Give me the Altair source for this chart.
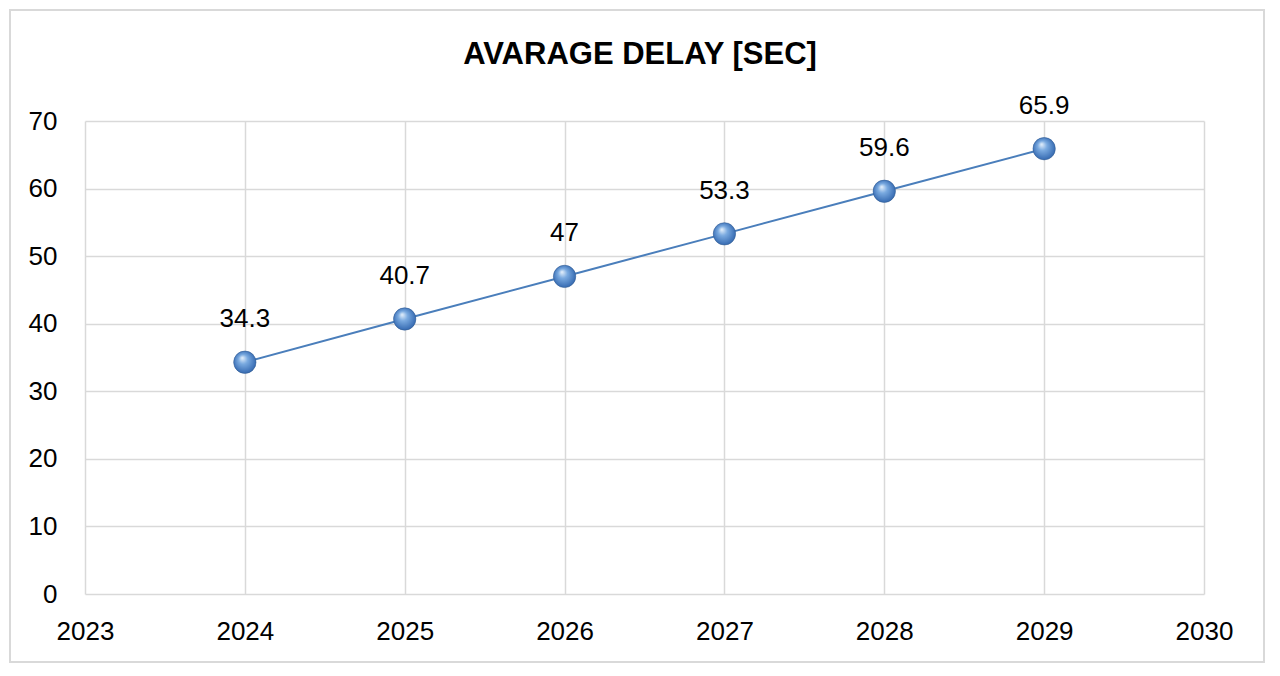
import altair as alt
import pandas as pd

years = [2024, 2025, 2026, 2027, 2028, 2029]
delay = [34.3, 40.7, 47, 53.3, 59.6, 65.9]
labels = ["34.3", "40.7", "47", "53.3", "59.6", "65.9"]
x_ticks = [2023, 2024, 2025, 2026, 2027, 2028, 2029, 2030]
y_ticks = [0, 10, 20, 30, 40, 50, 60, 70]
title = "AVARAGE DELAY [SEC]"

df = pd.DataFrame({"year": years, "delay": delay, "label": labels})

FONT = "Liberation Sans"
W, H = 1119, 473
PL, PT, PR, PB = 77, 113, 62, 70

x = alt.X("year:Q", scale=alt.Scale(domain=[2023, 2030], nice=False),
          axis=alt.Axis(values=x_ticks, format="d", title=None, labelFontSize=26,
                        labelColor="#000000", labelFont=FONT, labelPadding=24,
                        domain=False, ticks=False, grid=True, gridColor="#d9d9d9",
                        gridWidth=1.5, labelFlush=False))
y = alt.Y("delay:Q", scale=alt.Scale(domain=[0, 70], nice=False),
          axis=alt.Axis(values=y_ticks, title=None, labelFontSize=26,
                        labelColor="#000000", labelFont=FONT, labelPadding=28,
                        domain=False, ticks=False, grid=True, gridColor="#d9d9d9",
                        gridWidth=1.5))

base = alt.Chart(df)

line = base.mark_line(color="#4a7ebb", strokeWidth=2).encode(x=x, y=y)

sphere = alt.Gradient(
    gradient="radial",
    x1=0.38, y1=0.3, r1=0.0,
    x2=0.5, y2=0.5, r2=0.6,
    stops=[alt.GradientStop(offset=0, color="#e8f2fc"),
           alt.GradientStop(offset=0.35, color="#7aaae0"),
           alt.GradientStop(offset=0.8, color="#3f73b8"),
           alt.GradientStop(offset=1, color="#2c5a96")],
)
shadow = base.mark_point(filled=True, size=500, color="#8a8a8a", opacity=0.45,
                         shape="circle", dx=2, dy=3).encode(x=x, y=y)
points = base.mark_point(filled=True, size=500, fill=sphere, opacity=1,
                         shape="circle", stroke="#2c5a96", strokeWidth=0.5).encode(x=x, y=y)

text = base.mark_text(fontSize=26, font=FONT, color="#000000", dy=-43,
                      baseline="middle").encode(x=x, y=y, text="label:N")

one = alt.Data(values=[{"t": title}])
frame = alt.Chart(one).mark_rect(
    fill=None, stroke="#d9d9d9", strokeWidth=2
).encode(x=alt.value(-PL + 2), x2=alt.value(W + PR - 2),
         y=alt.value(-PT + 2), y2=alt.value(H + PB - 2))

title_mark = alt.Chart(one).mark_text(
    fontSize=31, font=FONT, fontWeight="bold", color="#000000",
    align="center", baseline="middle"
).encode(x=alt.value(640 - 85), y=alt.value(55 - 121), text="t:N")

chart = alt.layer(frame, line, shadow, points, text, title_mark).properties(
    width=W, height=H,
    autosize=alt.AutoSizeParams(type="none"),
    padding={"left": PL, "top": PT, "right": PR, "bottom": PB},
    background="#ffffff",
).configure_view(stroke=None)

chart.save("out.html", embed_options={"renderer": "svg", "actions": False})
